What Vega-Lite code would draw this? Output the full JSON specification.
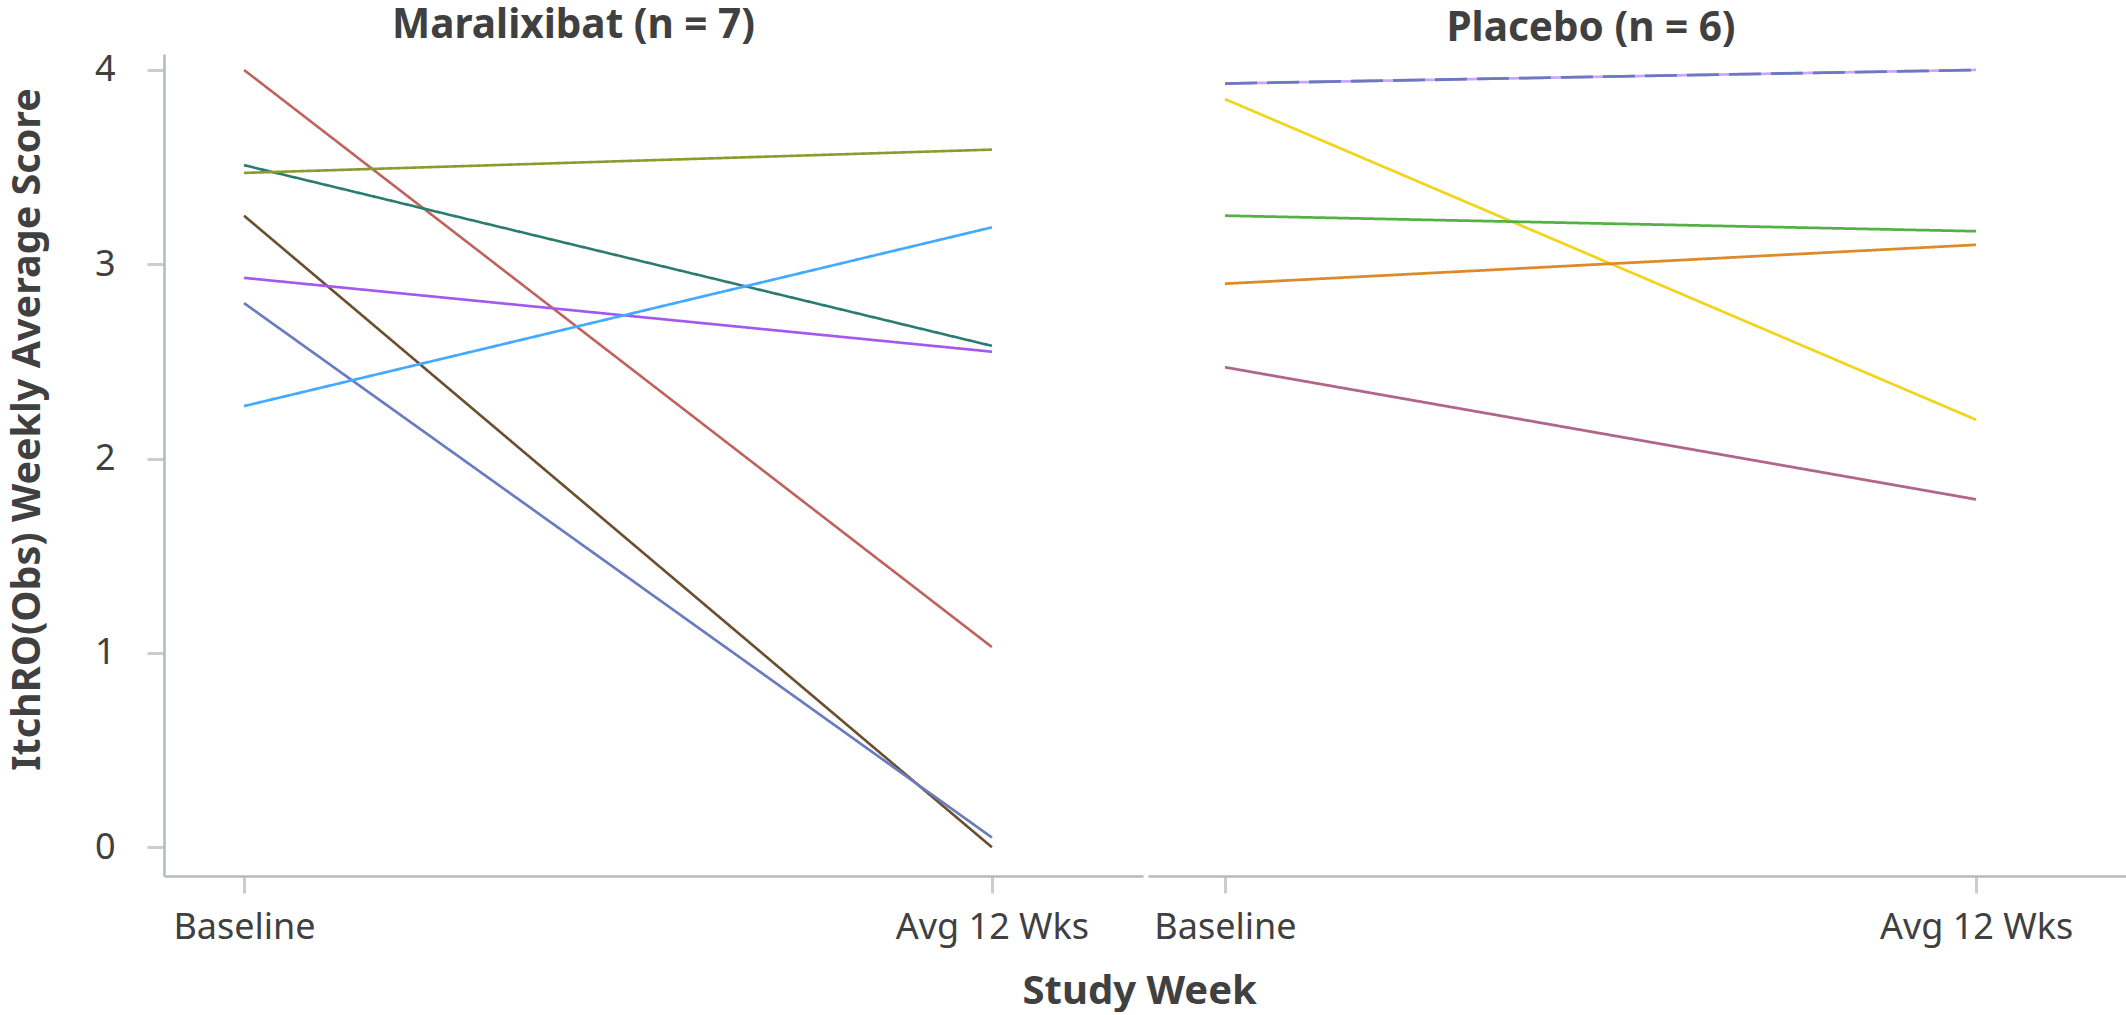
{
  "$schema": "https://vega.github.io/schema/vega-lite/v6.json",
  "background": "white",
  "padding": {"left": 7, "top": 6, "right": 0, "bottom": 0},
  "spacing": 5,
  "datasets": {
    "maralixibat": [
      {"subject": "M1", "week": "Baseline", "week_num": 0, "score": 4.0},
      {"subject": "M1", "week": "Avg 12 Wks", "week_num": 1, "score": 1.03},
      {"subject": "M2", "week": "Baseline", "week_num": 0, "score": 3.51},
      {"subject": "M2", "week": "Avg 12 Wks", "week_num": 1, "score": 2.58},
      {"subject": "M3", "week": "Baseline", "week_num": 0, "score": 3.47},
      {"subject": "M3", "week": "Avg 12 Wks", "week_num": 1, "score": 3.59},
      {"subject": "M4", "week": "Baseline", "week_num": 0, "score": 3.25},
      {"subject": "M4", "week": "Avg 12 Wks", "week_num": 1, "score": 0.0},
      {"subject": "M5", "week": "Baseline", "week_num": 0, "score": 2.93},
      {"subject": "M5", "week": "Avg 12 Wks", "week_num": 1, "score": 2.55},
      {"subject": "M6", "week": "Baseline", "week_num": 0, "score": 2.8},
      {"subject": "M6", "week": "Avg 12 Wks", "week_num": 1, "score": 0.05},
      {"subject": "M7", "week": "Baseline", "week_num": 0, "score": 2.27},
      {"subject": "M7", "week": "Avg 12 Wks", "week_num": 1, "score": 3.19}
    ],
    "placebo": [
      {"subject": "P1", "week": "Baseline", "week_num": 0, "score": 3.93},
      {"subject": "P1", "week": "Avg 12 Wks", "week_num": 1, "score": 4.0},
      {"subject": "P6", "week": "Baseline", "week_num": 0, "score": 3.93},
      {"subject": "P6", "week": "Avg 12 Wks", "week_num": 1, "score": 4.0},
      {"subject": "P2", "week": "Baseline", "week_num": 0, "score": 3.85},
      {"subject": "P2", "week": "Avg 12 Wks", "week_num": 1, "score": 2.2},
      {"subject": "P3", "week": "Baseline", "week_num": 0, "score": 3.25},
      {"subject": "P3", "week": "Avg 12 Wks", "week_num": 1, "score": 3.17},
      {"subject": "P4", "week": "Baseline", "week_num": 0, "score": 2.9},
      {"subject": "P4", "week": "Avg 12 Wks", "week_num": 1, "score": 3.1},
      {"subject": "P5", "week": "Baseline", "week_num": 0, "score": 2.47},
      {"subject": "P5", "week": "Avg 12 Wks", "week_num": 1, "score": 1.79}
    ]
  },
  "title": {
    "text": "Study Week",
    "orient": "bottom",
    "anchor": "middle",
    "dx": 73,
    "offset": 27,
    "fontSize": 40,
    "fontWeight": "bold",
    "font": "Noto Sans",
    "color": "#404040"
  },
  "hconcat": [
    {
      "width": 979,
      "height": 822,
      "data": {"name": "maralixibat"},
      "title": {"text": "Maralixibat (n = 7)", "frame": "group", "anchor": "middle", "dx": -80, "fontSize": 40.5, "fontWeight": "bold", "font": "Noto Sans", "color": "#404040", "offset": 5},
      "mark": {"type": "line"},
      "encoding": {
        "x": {"field": "week_num", "type": "quantitative", "scale": {"domain": [-0.107, 1.202], "nice": false, "zero": false},
              "axis": {"title": null, "values": [0, 1], "labelExpr": "datum.value === 0 ? 'Baseline' : 'Avg 12 Wks'", "labelFlush": false, "labelLimit": 0}},
        "y": {"field": "score", "type": "quantitative", "scale": {"domain": [-0.148, 4.082], "nice": false, "zero": false}, "axis": {"title": "ItchRO(Obs) Weekly Average Score", "values": [0, 1, 2, 3, 4], "titleY": 375}},
        "detail": {"field": "subject", "type": "nominal"},
        "color": {"field": "subject", "type": "nominal", "legend": null,
          "scale": {"domain": ["M1", "M2", "M3", "M4", "M5", "M6", "M7", "P1", "P2", "P3", "P4", "P5", "P6"],
                    "range": ["#c0625c", "#2a7d6e", "#8b9b2c", "#6b5030", "#a458ec", "#6a7bbf", "#42aaff", "#c8a8f8", "#f2d41a", "#55b046", "#dd8a2a", "#b0668a", "#6c78c0"]}},
        "strokeDash": {"field": "subject", "type": "nominal", "legend": null,
          "scale": {"domain": ["M1", "M2", "M3", "M4", "M5", "M6", "M7", "P1", "P2", "P3", "P4", "P5", "P6"],
                    "range": [[1, 0], [1, 0], [1, 0], [1, 0], [1, 0], [1, 0], [1, 0], [1, 0], [1, 0], [1, 0], [1, 0], [1, 0], [32, 10]]}},
        "strokeWidth": {"field": "subject", "type": "nominal", "legend": null,
          "scale": {"domain": ["M1", "M2", "M3", "M4", "M5", "M6", "M7", "P1", "P2", "P3", "P4", "P5", "P6"],
                    "range": [2.6, 2.8, 3, 2.6, 2.8, 2.6, 2.6, 4, 2.6, 3, 3, 2.6, 3.5]}}
      }
    },
    {
      "width": 978,
      "height": 822,
      "data": {"name": "placebo"},
      "title": {"text": "Placebo (n = 6)", "frame": "group", "anchor": "middle", "dx": -46, "fontSize": 40.5, "fontWeight": "bold", "font": "Noto Sans", "color": "#404040", "offset": 5},
      "mark": {"type": "line"},
      "encoding": {
        "x": {"field": "week_num", "type": "quantitative", "scale": {"domain": [-0.1025, 1.1997], "nice": false, "zero": false},
              "axis": {"title": null, "values": [0, 1], "labelExpr": "datum.value === 0 ? 'Baseline' : 'Avg 12 Wks'", "labelFlush": false, "labelLimit": 0}},
        "y": {"field": "score", "type": "quantitative", "scale": {"domain": [-0.148, 4.082], "nice": false, "zero": false}, "axis": null},
        "detail": {"field": "subject", "type": "nominal"},
        "color": {"field": "subject", "type": "nominal", "legend": null,
          "scale": {"domain": ["M1", "M2", "M3", "M4", "M5", "M6", "M7", "P1", "P2", "P3", "P4", "P5", "P6"],
                    "range": ["#c0625c", "#2a7d6e", "#8b9b2c", "#6b5030", "#a458ec", "#6a7bbf", "#42aaff", "#c8a8f8", "#f2d41a", "#55b046", "#dd8a2a", "#b0668a", "#6c78c0"]}},
        "strokeDash": {"field": "subject", "type": "nominal", "legend": null,
          "scale": {"domain": ["M1", "M2", "M3", "M4", "M5", "M6", "M7", "P1", "P2", "P3", "P4", "P5", "P6"],
                    "range": [[1, 0], [1, 0], [1, 0], [1, 0], [1, 0], [1, 0], [1, 0], [1, 0], [1, 0], [1, 0], [1, 0], [1, 0], [32, 10]]}},
        "strokeWidth": {"field": "subject", "type": "nominal", "legend": null,
          "scale": {"domain": ["M1", "M2", "M3", "M4", "M5", "M6", "M7", "P1", "P2", "P3", "P4", "P5", "P6"],
                    "range": [2.6, 2.8, 3, 2.6, 2.8, 2.6, 2.6, 4, 2.6, 3, 3, 2.6, 3.5]}}
      }
    }
  ],
  "config": {
    "view": {"stroke": null},
    "font": "Noto Sans",
    "axis": {
      "grid": false,
      "domainColor": "#b5babe",
      "domainWidth": 2.5,
      "tickColor": "#c9cdd0",
      "tickWidth": 3,
      "tickSize": 17,
      "labelFont": "Noto Sans",
      "labelFontSize": 36,
      "labelColor": "#404040",
      "titleFont": "Noto Sans",
      "titleFontSize": 39.5,
      "titleFontWeight": "bold",
      "titleColor": "#404040"
    },
    "axisY": {"labelPadding": 32, "titlePadding": 47},
    "axisX": {"labelPadding": 17}
  }
}
